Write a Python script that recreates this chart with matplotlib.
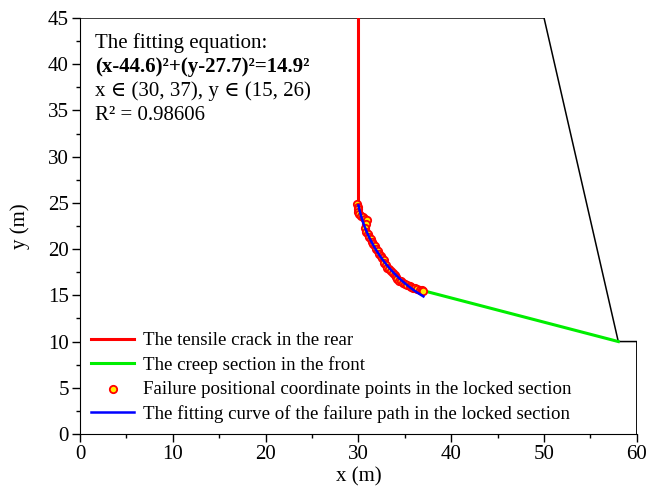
import matplotlib
matplotlib.use("Agg")
import matplotlib.pyplot as plt
from matplotlib.ticker import MultipleLocator
import numpy as np

plt.rcParams['font.family'] = ['Liberation Serif', 'DejaVu Serif']
plt.rcParams['mathtext.fontset'] = 'stix'

# Slope boundary
boundary_x = [0, 50, 58, 60, 60]
boundary_y = [45, 45, 10, 10, 0]

# Tensile crack in the rear
crack_x = [29.9, 29.9]
crack_y = [45, 24.8]

# Creep section in the front
creep_x = [37.0, 58.0]
creep_y = [15.5, 10.0]

# Failure positional coordinate points
pts_x = [29.8, 29.9, 30.0, 29.9, 30.1, 30.3, 30.5, 30.7, 30.9, 30.8, 30.7, 30.8,
         31.0, 31.1, 31.3, 31.5, 31.6, 31.8, 31.9, 32.1, 32.2, 32.4, 32.5, 32.7,
         32.8, 33.0, 33.1, 33.3, 33.5, 33.7, 33.9, 34.0, 34.2, 34.4, 34.6, 34.8,
         35.0, 35.2, 35.5, 35.7, 35.9, 36.1, 36.3, 36.6, 36.8, 37.0]
pts_y = [24.9, 24.6, 24.3, 24.0, 23.8, 23.6, 23.5, 23.3, 23.1, 22.7, 22.3, 21.9,
         21.6, 21.3, 21.1, 20.8, 20.5, 20.3, 20.0, 19.8, 19.5, 19.3, 19.0, 18.8,
         18.5, 18.3, 18.0, 17.8, 17.6, 17.4, 17.2, 17.0, 16.8, 16.6, 16.5, 16.3,
         16.2, 16.1, 16.0, 15.9, 15.8, 15.8, 15.7, 15.6, 15.6, 15.5]

# Fitting circle parameters
cx, cy, r = 44.6, 27.7, 14.9
fit_x = np.linspace(30, 37, 100)
fit_y = cy - np.sqrt(r**2 - (fit_x - cx)**2)

fig = plt.figure(figsize=(6.62, 4.86), dpi=100)
ax = fig.add_axes([0.121, 0.107, 0.841, 0.856])

ax.plot(boundary_x, boundary_y, color='black', lw=1.1, zorder=1)
l1, = ax.plot(crack_x, crack_y, color='#ff0000', lw=2.2, zorder=2,
              label='The tensile crack in the rear')
l2, = ax.plot(creep_x, creep_y, color='#00ee00', lw=2.2, zorder=2,
              label='The creep section in the front')
s = ax.scatter(pts_x, pts_y, s=28, facecolor='#ffee00', edgecolor='#ff0000',
               linewidths=1.3, zorder=3,
               label='Failure positional coordinate points in the locked section')
l4, = ax.plot(fit_x, fit_y, color='#0000ff', lw=1.8, zorder=4,
              label='The fitting curve of the failure path in the locked section')

ax.set_xlim(0, 60)
ax.set_ylim(0, 45)
ax.spines['top'].set_visible(False)
ax.spines['right'].set_visible(False)
ax.xaxis.set_major_locator(MultipleLocator(10))
ax.xaxis.set_minor_locator(MultipleLocator(5))
ax.yaxis.set_major_locator(MultipleLocator(5))
ax.yaxis.set_minor_locator(MultipleLocator(2.5))
ax.tick_params(which='major', direction='out', length=6, width=1, labelsize=15, pad=2)
ax.tick_params(which='minor', direction='out', length=3, width=1)
ax.set_xlabel('x (m)', fontsize=15, va='center')
ax.xaxis.set_label_coords(0.5, -0.103)
ax.set_ylabel('y (m)', fontsize=15, va='center')
ax.yaxis.set_label_coords(-0.108, 0.5)

ax.text(1.6, 42.3, 'The fitting equation:', fontsize=15, va='center')
ax.text(1.6, 39.7, '(x-44.6)²+(y-27.7)²=14.9²', fontsize=15, va='center', fontweight='bold')
ax.text(1.6, 37.1, 'x ∈ (30, 37), y ∈ (15, 26)', fontsize=15, va='center')
ax.text(1.6, 34.5, 'R² = 0.98606', fontsize=15, va='center')

leg = ax.legend(handles=[l1, l2, s, l4], loc='lower left', frameon=False,
                fontsize=13.6, handlelength=2.25, handletextpad=0.5,
                labelspacing=0.36, borderaxespad=0.2, bbox_to_anchor=(0.0, 0.0))

fig.savefig('out.png', dpi=100)
